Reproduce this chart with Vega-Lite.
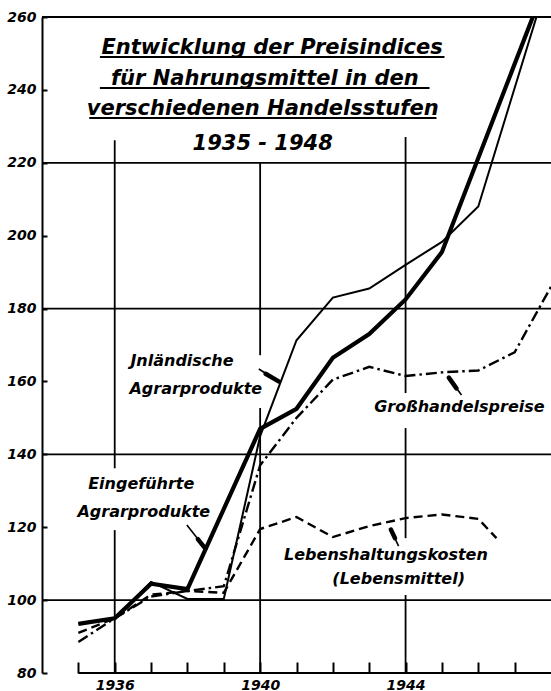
{
  "$schema": "https://vega.github.io/schema/vega-lite/v6.json",
  "width": 509,
  "height": 656,
  "autosize": {"type": "none"},
  "padding": {"left": 42, "top": 17, "right": 0, "bottom": 18},
  "background": "white",
  "config": {"view": {"stroke": null}},
  "datasets": {
    "series": [
      {"s": "Inländische Agrarprodukte", "year": 1935, "value": 93.5},
      {"s": "Inländische Agrarprodukte", "year": 1936, "value": 95},
      {"s": "Inländische Agrarprodukte", "year": 1937, "value": 105},
      {"s": "Inländische Agrarprodukte", "year": 1938, "value": 100.3},
      {"s": "Inländische Agrarprodukte", "year": 1939, "value": 100.3},
      {"s": "Inländische Agrarprodukte", "year": 1940, "value": 145},
      {"s": "Inländische Agrarprodukte", "year": 1941, "value": 171.3},
      {"s": "Inländische Agrarprodukte", "year": 1942, "value": 183},
      {"s": "Inländische Agrarprodukte", "year": 1943, "value": 185.5},
      {"s": "Inländische Agrarprodukte", "year": 1944, "value": 192},
      {"s": "Inländische Agrarprodukte", "year": 1945, "value": 198.3},
      {"s": "Inländische Agrarprodukte", "year": 1946, "value": 208},
      {"s": "Inländische Agrarprodukte", "year": 1947.6, "value": 260},
      {"s": "Eingeführte Agrarprodukte", "year": 1935, "value": 93.5},
      {"s": "Eingeführte Agrarprodukte", "year": 1936, "value": 95},
      {"s": "Eingeführte Agrarprodukte", "year": 1937, "value": 104.5},
      {"s": "Eingeführte Agrarprodukte", "year": 1938, "value": 103},
      {"s": "Eingeführte Agrarprodukte", "year": 1940, "value": 147},
      {"s": "Eingeführte Agrarprodukte", "year": 1941, "value": 152.5},
      {"s": "Eingeführte Agrarprodukte", "year": 1942, "value": 166.5},
      {"s": "Eingeführte Agrarprodukte", "year": 1943, "value": 173},
      {"s": "Eingeführte Agrarprodukte", "year": 1944, "value": 182.5},
      {"s": "Eingeführte Agrarprodukte", "year": 1945, "value": 195.5},
      {"s": "Eingeführte Agrarprodukte", "year": 1947.5, "value": 260},
      {"s": "Großhandelspreise", "year": 1935, "value": 88.5},
      {"s": "Großhandelspreise", "year": 1936, "value": 95},
      {"s": "Großhandelspreise", "year": 1937, "value": 101},
      {"s": "Großhandelspreise", "year": 1938, "value": 102.5},
      {"s": "Großhandelspreise", "year": 1939, "value": 103.8},
      {"s": "Großhandelspreise", "year": 1940, "value": 137},
      {"s": "Großhandelspreise", "year": 1941, "value": 150},
      {"s": "Großhandelspreise", "year": 1942, "value": 160.5},
      {"s": "Großhandelspreise", "year": 1943, "value": 164},
      {"s": "Großhandelspreise", "year": 1944, "value": 161.5},
      {"s": "Großhandelspreise", "year": 1945, "value": 162.5},
      {"s": "Großhandelspreise", "year": 1946, "value": 163},
      {"s": "Großhandelspreise", "year": 1947, "value": 168},
      {"s": "Großhandelspreise", "year": 1948, "value": 186},
      {"s": "Lebenshaltungskosten (Lebensmittel)", "year": 1935, "value": 91},
      {"s": "Lebenshaltungskosten (Lebensmittel)", "year": 1936, "value": 95},
      {"s": "Lebenshaltungskosten (Lebensmittel)", "year": 1937, "value": 101.5},
      {"s": "Lebenshaltungskosten (Lebensmittel)", "year": 1938, "value": 102.5},
      {"s": "Lebenshaltungskosten (Lebensmittel)", "year": 1939, "value": 102},
      {"s": "Lebenshaltungskosten (Lebensmittel)", "year": 1940, "value": 119.5},
      {"s": "Lebenshaltungskosten (Lebensmittel)", "year": 1941, "value": 122.8},
      {"s": "Lebenshaltungskosten (Lebensmittel)", "year": 1942, "value": 117.3},
      {"s": "Lebenshaltungskosten (Lebensmittel)", "year": 1943, "value": 120.3},
      {"s": "Lebenshaltungskosten (Lebensmittel)", "year": 1944, "value": 122.5},
      {"s": "Lebenshaltungskosten (Lebensmittel)", "year": 1945, "value": 123.5},
      {"s": "Lebenshaltungskosten (Lebensmittel)", "year": 1946, "value": 122.3},
      {"s": "Lebenshaltungskosten (Lebensmittel)", "year": 1946.5, "value": 117}
    ],
    "hgrid": [
      {"year": 1934, "year2": 1948, "value": 100},
      {"year": 1934, "year2": 1948, "value": 140},
      {"year": 1934, "year2": 1948, "value": 180},
      {"year": 1934, "year2": 1948, "value": 220},
      {"year": 1934, "year2": 1948, "value": 260}
    ],
    "vgrid": [
      {"year": 1936, "value": 80, "value2": 119.2},
      {"year": 1936, "value": 136.2, "value2": 226.2},
      {"year": 1940, "value": 80, "value2": 152.7},
      {"year": 1940, "value": 167.2, "value2": 220.2},
      {"year": 1944, "value": 80, "value2": 101.4},
      {"year": 1944, "value": 117, "value2": 147.2},
      {"year": 1944, "value": 156.8, "value2": 227.1}
    ],
    "xaxis": [{"year": 1935, "year2": 1948, "value": 80}],
    "title": [
      {"text": "Entwicklung der Preisindices", "year": 1940.33, "value": 249.85},
      {"text": "für Nahrungsmittel in den", "year": 1940.13, "value": 241.34},
      {"text": "verschiedenen Handelsstufen", "year": 1940.07, "value": 233.11},
      {"text": "1935 - 1948", "year": 1940.07, "value": 223.5}
    ],
    "underlines": [
      {"year": 1935.593, "year2": 1945.071, "value": 249.02},
      {"year": 1935.593, "year2": 1944.659, "value": 240.52},
      {"year": 1935.3, "year2": 1944.85, "value": 232.28}
    ],
    "labels": [
      {"text": "Jnländische", "year": 1937.85, "value": 165.6},
      {"text": "Agrarprodukte", "year": 1938.23, "value": 157.9},
      {"text": "Eingeführte", "year": 1936.73, "value": 131.8},
      {"text": "Agrarprodukte", "year": 1936.8, "value": 124.2},
      {"text": "Großhandelspreise", "year": 1945.48, "value": 153.0},
      {"text": "Lebenshaltungskosten", "year": 1943.46, "value": 112.4},
      {"text": "(Lebensmittel)", "year": 1943.81, "value": 105.8}
    ],
    "shafts": [
      {"year": 1939.962, "value": 163.4, "year2": 1940.538, "value2": 159.84},
      {"year": 1937.984, "value": 120.59, "year2": 1938.505, "value2": 114.01},
      {"year": 1945.538, "value": 156.27, "year2": 1945.181, "value2": 161.21},
      {"year": 1943.808, "value": 114.83, "year2": 1943.588, "value2": 119.5}
    ],
    "heads": [
      {"year": 1940.15, "value": 162.1, "year2": 1940.52, "value2": 159.95},
      {"year": 1938.286, "value": 116.75, "year2": 1938.495, "value2": 114.15},
      {"year": 1945.4, "value": 158.1, "year2": 1945.19, "value2": 161.05},
      {"year": 1943.71, "value": 117.0, "year2": 1943.595, "value2": 119.35}
    ]
  },
  "encoding": {
    "x": {"field": "year", "type": "quantitative", "scale": {"domain": [1934, 1948], "nice": false, "zero": false},
      "axis": {"title": null, "values": [1935, 1936, 1937, 1938, 1939, 1940, 1941, 1942, 1943, 1944, 1945, 1946, 1947],
        "grid": false, "domain": false, "tickSize": -11, "tickColor": "black", "tickWidth": 2,
        "labelExpr": "(datum.value == 1936 || datum.value == 1940 || datum.value == 1944) ? '' + datum.value : ''",
        "labelFont": "DejaVu Sans", "labelFontStyle": "italic", "labelFontWeight": "bold", "labelFontSize": 14,
        "labelColor": "black", "labelPadding": 16, "labelFlush": false, "labelOverlap": false}},
    "y": {"field": "value", "type": "quantitative", "scale": {"domain": [80, 260], "nice": false, "zero": false},
      "axis": {"title": null, "values": [80, 100, 120, 140, 160, 180, 200, 220, 240, 260], "grid": false,
        "domain": true, "domainColor": "black", "domainWidth": 2, "tickSize": -5, "tickColor": "black", "tickWidth": 2,
        "labelFont": "DejaVu Sans", "labelFontStyle": "italic", "labelFontWeight": "bold", "labelFontSize": 14,
        "labelColor": "black", "labelPadding": 11, "labelFlush": false, "labelOverlap": false}}
  },
  "layer": [
    {
      "data": {"name": "hgrid"},
      "mark": {"type": "rule", "stroke": "black", "strokeWidth": 1.8},
      "encoding": {"x2": {"field": "year2"}}
    },
    {
      "data": {"name": "vgrid"},
      "mark": {"type": "rule", "stroke": "black", "strokeWidth": 1.8},
      "encoding": {"y2": {"field": "value2"}}
    },
    {
      "data": {"name": "xaxis"},
      "mark": {"type": "rule", "stroke": "black", "strokeWidth": 2},
      "encoding": {"x2": {"field": "year2"}}
    },
    {
      "data": {"name": "series"},
      "transform": [{"filter": "datum.s == 'Inländische Agrarprodukte'"}],
      "mark": {"type": "line", "stroke": "black", "strokeWidth": 2, "clip": true},
      "encoding": {}
    },
    {
      "data": {"name": "series"},
      "transform": [{"filter": "datum.s == 'Eingeführte Agrarprodukte'"}],
      "mark": {"type": "line", "stroke": "black", "strokeWidth": 4.2, "clip": true},
      "encoding": {}
    },
    {
      "data": {"name": "series"},
      "transform": [{"filter": "datum.s == 'Großhandelspreise'"}],
      "mark": {"type": "line", "stroke": "black", "strokeWidth": 2.4, "strokeDash": [11, 4, 2.5, 4], "clip": true},
      "encoding": {}
    },
    {
      "data": {"name": "series"},
      "transform": [{"filter": "datum.s == 'Lebenshaltungskosten (Lebensmittel)'"}],
      "mark": {"type": "line", "stroke": "black", "strokeWidth": 2.4, "strokeDash": [9, 5], "clip": true},
      "encoding": {}
    },
    {
      "data": {"name": "title"},
      "mark": {"type": "text", "font": "DejaVu Sans", "fontStyle": "italic", "fontWeight": "bold", "fontSize": 21, "align": "center", "baseline": "alphabetic", "color": "black"},
      "encoding": {"text": {"field": "text"}}
    },
    {
      "data": {"name": "underlines"},
      "mark": {"type": "rule", "stroke": "black", "strokeWidth": 2},
      "encoding": {"x2": {"field": "year2"}}
    },
    {
      "data": {"name": "labels"},
      "mark": {"type": "text", "font": "DejaVu Sans", "fontStyle": "italic", "fontWeight": "bold", "fontSize": 16, "align": "center", "baseline": "middle", "color": "black"},
      "encoding": {"text": {"field": "text"}}
    },
    {
      "data": {"name": "shafts"},
      "mark": {"type": "rule", "stroke": "black", "strokeWidth": 1.6},
      "encoding": {"x2": {"field": "year2"}, "y2": {"field": "value2"}}
    },
    {
      "data": {"name": "heads"},
      "mark": {"type": "rule", "stroke": "black", "strokeWidth": 4.5, "strokeCap": "round"},
      "encoding": {"x2": {"field": "year2"}, "y2": {"field": "value2"}}
    }
  ]
}
